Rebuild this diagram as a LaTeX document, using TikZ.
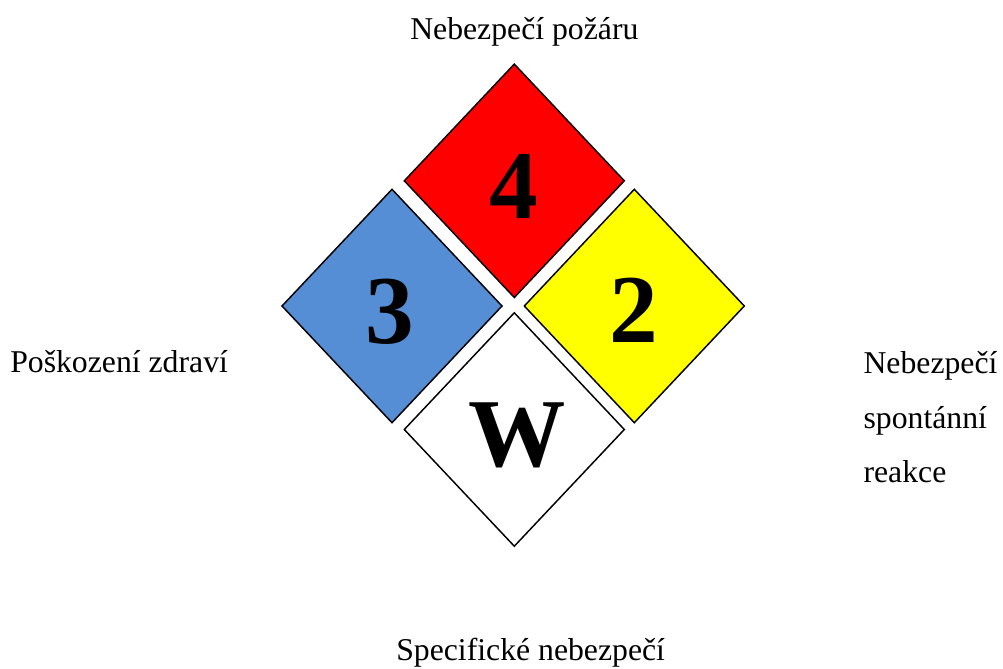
\documentclass[tikz,border=0pt]{standalone}
\usepackage{fontspec}
\setmainfont{Liberation Serif}
\usetikzlibrary{shapes.geometric}
\definecolor{healthblue}{HTML}{558ED5}
\definecolor{firered}{HTML}{FF0000}
\definecolor{reactyellow}{HTML}{FFFF00}
\tikzset{
  panel/.style={shape=diamond, draw=black, line width=1.1pt, inner sep=0pt,
    minimum width=220.6*0.75pt, minimum height=234*0.75pt},
  rating/.style={anchor=base, inner sep=0pt,
    font=\fontsize{73}{80}\selectfont\bfseries},
  caption/.style={anchor=base west, inner sep=0pt,
    font=\fontsize{23.8}{28}\selectfont}
}
\begin{document}
\begin{tikzpicture}[x=0.75pt,y=-0.75pt]
  \useasboundingbox (0,0) rectangle (1003,668);
  % the four hazard panels
  \node[panel, fill=firered]     (fire)     at (514.3,180.8) {};
  \node[panel, fill=healthblue]  (health)   at (392,306)     {};
  \node[panel, fill=reactyellow] (reaction) at (634.3,306)   {};
  \node[panel, fill=white]       (special)  at (514.3,429.5) {};
  % ratings
  \node[rating] (fireval)     at (514,218.3)   {4};
  \node[rating] (healthval)   at (390.3,343.5) {3};
  \node[rating] (reactionval) at (633.4,342.7) {2};
  \node[rating] (specialval)  at (517,466.7)   {W};
  % captions
  \node[caption] (firetext)    at (410,39.8)    {Nebezpečí požáru};
  \node[caption] (healthtext)  at (10,372.5)    {Poškození zdraví};
  \node[caption] (reacttextA)  at (863.3,373.3) {Nebezpečí};
  \node[caption] (reacttextB)  at (863.3,428)   {spontánní};
  \node[caption] (reacttextC)  at (863.3,482.7) {reakce};
  \node[caption] (specialtext) at (396,660)     {Specifické nebezpečí};
\end{tikzpicture}
\end{document}
